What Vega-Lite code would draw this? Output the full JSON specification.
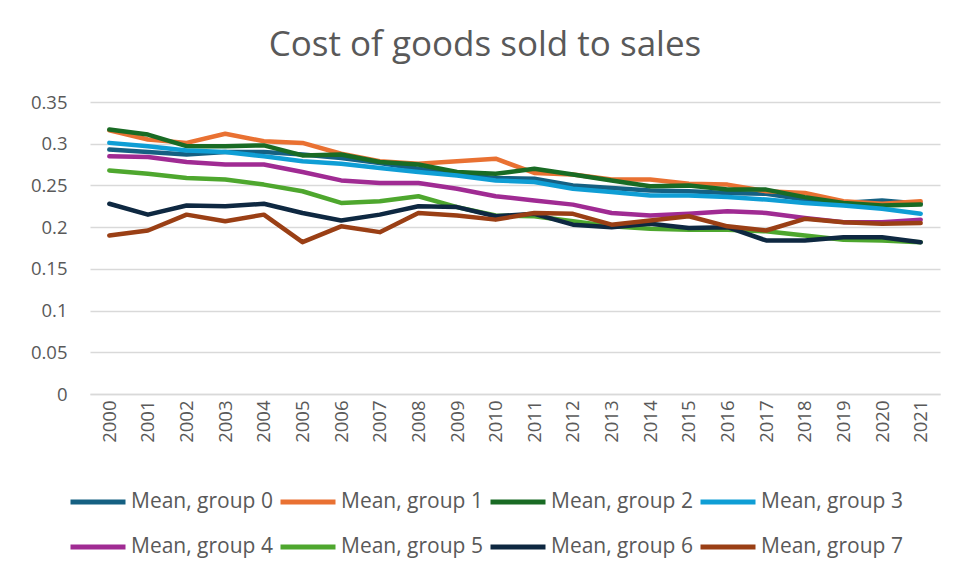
{
  "$schema": "https://vega.github.io/schema/vega-lite/v6.json",
  "width": 850,
  "height": 292,
  "autosize": {"type": "none"},
  "padding": {"left": 90, "top": 102, "right": 25, "bottom": 184},
  "background": "white",
  "title": {
    "text": "Cost of goods sold to sales",
    "fontSize": 35,
    "font": "Open Sans",
    "fontWeight": "normal",
    "color": "#595959",
    "anchor": "middle",
    "dx": -30,
    "offset": 30
  },
  "data": {
    "values": [
      {"y":"2000","s":"Mean, group 0","v":0.293},{"y":"2001","s":"Mean, group 0","v":0.290},{"y":"2002","s":"Mean, group 0","v":0.287},{"y":"2003","s":"Mean, group 0","v":0.290},{"y":"2004","s":"Mean, group 0","v":0.290},{"y":"2005","s":"Mean, group 0","v":0.287},{"y":"2006","s":"Mean, group 0","v":0.283},{"y":"2007","s":"Mean, group 0","v":0.277},{"y":"2008","s":"Mean, group 0","v":0.270},{"y":"2009","s":"Mean, group 0","v":0.263},{"y":"2010","s":"Mean, group 0","v":0.259},{"y":"2011","s":"Mean, group 0","v":0.258},{"y":"2012","s":"Mean, group 0","v":0.250},{"y":"2013","s":"Mean, group 0","v":0.247},{"y":"2014","s":"Mean, group 0","v":0.244},{"y":"2015","s":"Mean, group 0","v":0.243},{"y":"2016","s":"Mean, group 0","v":0.241},{"y":"2017","s":"Mean, group 0","v":0.240},{"y":"2018","s":"Mean, group 0","v":0.233},{"y":"2019","s":"Mean, group 0","v":0.229},{"y":"2020","s":"Mean, group 0","v":0.232},{"y":"2021","s":"Mean, group 0","v":0.228},
      {"y":"2000","s":"Mean, group 1","v":0.316},{"y":"2001","s":"Mean, group 1","v":0.305},{"y":"2002","s":"Mean, group 1","v":0.301},{"y":"2003","s":"Mean, group 1","v":0.312},{"y":"2004","s":"Mean, group 1","v":0.303},{"y":"2005","s":"Mean, group 1","v":0.301},{"y":"2006","s":"Mean, group 1","v":0.288},{"y":"2007","s":"Mean, group 1","v":0.279},{"y":"2008","s":"Mean, group 1","v":0.276},{"y":"2009","s":"Mean, group 1","v":0.279},{"y":"2010","s":"Mean, group 1","v":0.282},{"y":"2011","s":"Mean, group 1","v":0.265},{"y":"2012","s":"Mean, group 1","v":0.263},{"y":"2013","s":"Mean, group 1","v":0.257},{"y":"2014","s":"Mean, group 1","v":0.257},{"y":"2015","s":"Mean, group 1","v":0.252},{"y":"2016","s":"Mean, group 1","v":0.251},{"y":"2017","s":"Mean, group 1","v":0.243},{"y":"2018","s":"Mean, group 1","v":0.241},{"y":"2019","s":"Mean, group 1","v":0.231},{"y":"2020","s":"Mean, group 1","v":0.228},{"y":"2021","s":"Mean, group 1","v":0.231},
      {"y":"2000","s":"Mean, group 2","v":0.317},{"y":"2001","s":"Mean, group 2","v":0.311},{"y":"2002","s":"Mean, group 2","v":0.297},{"y":"2003","s":"Mean, group 2","v":0.297},{"y":"2004","s":"Mean, group 2","v":0.298},{"y":"2005","s":"Mean, group 2","v":0.286},{"y":"2006","s":"Mean, group 2","v":0.287},{"y":"2007","s":"Mean, group 2","v":0.278},{"y":"2008","s":"Mean, group 2","v":0.275},{"y":"2009","s":"Mean, group 2","v":0.266},{"y":"2010","s":"Mean, group 2","v":0.264},{"y":"2011","s":"Mean, group 2","v":0.270},{"y":"2012","s":"Mean, group 2","v":0.263},{"y":"2013","s":"Mean, group 2","v":0.256},{"y":"2014","s":"Mean, group 2","v":0.249},{"y":"2015","s":"Mean, group 2","v":0.250},{"y":"2016","s":"Mean, group 2","v":0.245},{"y":"2017","s":"Mean, group 2","v":0.245},{"y":"2018","s":"Mean, group 2","v":0.236},{"y":"2019","s":"Mean, group 2","v":0.229},{"y":"2020","s":"Mean, group 2","v":0.226},{"y":"2021","s":"Mean, group 2","v":0.227},
      {"y":"2000","s":"Mean, group 3","v":0.301},{"y":"2001","s":"Mean, group 3","v":0.297},{"y":"2002","s":"Mean, group 3","v":0.292},{"y":"2003","s":"Mean, group 3","v":0.290},{"y":"2004","s":"Mean, group 3","v":0.285},{"y":"2005","s":"Mean, group 3","v":0.279},{"y":"2006","s":"Mean, group 3","v":0.276},{"y":"2007","s":"Mean, group 3","v":0.271},{"y":"2008","s":"Mean, group 3","v":0.266},{"y":"2009","s":"Mean, group 3","v":0.262},{"y":"2010","s":"Mean, group 3","v":0.256},{"y":"2011","s":"Mean, group 3","v":0.254},{"y":"2012","s":"Mean, group 3","v":0.246},{"y":"2013","s":"Mean, group 3","v":0.242},{"y":"2014","s":"Mean, group 3","v":0.238},{"y":"2015","s":"Mean, group 3","v":0.238},{"y":"2016","s":"Mean, group 3","v":0.236},{"y":"2017","s":"Mean, group 3","v":0.233},{"y":"2018","s":"Mean, group 3","v":0.229},{"y":"2019","s":"Mean, group 3","v":0.226},{"y":"2020","s":"Mean, group 3","v":0.222},{"y":"2021","s":"Mean, group 3","v":0.216},
      {"y":"2000","s":"Mean, group 4","v":0.285},{"y":"2001","s":"Mean, group 4","v":0.284},{"y":"2002","s":"Mean, group 4","v":0.278},{"y":"2003","s":"Mean, group 4","v":0.275},{"y":"2004","s":"Mean, group 4","v":0.275},{"y":"2005","s":"Mean, group 4","v":0.266},{"y":"2006","s":"Mean, group 4","v":0.256},{"y":"2007","s":"Mean, group 4","v":0.253},{"y":"2008","s":"Mean, group 4","v":0.253},{"y":"2009","s":"Mean, group 4","v":0.246},{"y":"2010","s":"Mean, group 4","v":0.237},{"y":"2011","s":"Mean, group 4","v":0.232},{"y":"2012","s":"Mean, group 4","v":0.227},{"y":"2013","s":"Mean, group 4","v":0.217},{"y":"2014","s":"Mean, group 4","v":0.214},{"y":"2015","s":"Mean, group 4","v":0.216},{"y":"2016","s":"Mean, group 4","v":0.219},{"y":"2017","s":"Mean, group 4","v":0.217},{"y":"2018","s":"Mean, group 4","v":0.211},{"y":"2019","s":"Mean, group 4","v":0.206},{"y":"2020","s":"Mean, group 4","v":0.206},{"y":"2021","s":"Mean, group 4","v":0.209},
      {"y":"2000","s":"Mean, group 5","v":0.268},{"y":"2001","s":"Mean, group 5","v":0.264},{"y":"2002","s":"Mean, group 5","v":0.259},{"y":"2003","s":"Mean, group 5","v":0.257},{"y":"2004","s":"Mean, group 5","v":0.251},{"y":"2005","s":"Mean, group 5","v":0.243},{"y":"2006","s":"Mean, group 5","v":0.229},{"y":"2007","s":"Mean, group 5","v":0.231},{"y":"2008","s":"Mean, group 5","v":0.237},{"y":"2009","s":"Mean, group 5","v":0.224},{"y":"2010","s":"Mean, group 5","v":0.214},{"y":"2011","s":"Mean, group 5","v":0.213},{"y":"2012","s":"Mean, group 5","v":0.207},{"y":"2013","s":"Mean, group 5","v":0.201},{"y":"2014","s":"Mean, group 5","v":0.198},{"y":"2015","s":"Mean, group 5","v":0.197},{"y":"2016","s":"Mean, group 5","v":0.197},{"y":"2017","s":"Mean, group 5","v":0.195},{"y":"2018","s":"Mean, group 5","v":0.190},{"y":"2019","s":"Mean, group 5","v":0.185},{"y":"2020","s":"Mean, group 5","v":0.184},{"y":"2021","s":"Mean, group 5","v":0.182},
      {"y":"2000","s":"Mean, group 6","v":0.228},{"y":"2001","s":"Mean, group 6","v":0.215},{"y":"2002","s":"Mean, group 6","v":0.226},{"y":"2003","s":"Mean, group 6","v":0.225},{"y":"2004","s":"Mean, group 6","v":0.228},{"y":"2005","s":"Mean, group 6","v":0.217},{"y":"2006","s":"Mean, group 6","v":0.208},{"y":"2007","s":"Mean, group 6","v":0.215},{"y":"2008","s":"Mean, group 6","v":0.225},{"y":"2009","s":"Mean, group 6","v":0.224},{"y":"2010","s":"Mean, group 6","v":0.213},{"y":"2011","s":"Mean, group 6","v":0.216},{"y":"2012","s":"Mean, group 6","v":0.203},{"y":"2013","s":"Mean, group 6","v":0.200},{"y":"2014","s":"Mean, group 6","v":0.204},{"y":"2015","s":"Mean, group 6","v":0.199},{"y":"2016","s":"Mean, group 6","v":0.200},{"y":"2017","s":"Mean, group 6","v":0.184},{"y":"2018","s":"Mean, group 6","v":0.184},{"y":"2019","s":"Mean, group 6","v":0.188},{"y":"2020","s":"Mean, group 6","v":0.188},{"y":"2021","s":"Mean, group 6","v":0.182},
      {"y":"2000","s":"Mean, group 7","v":0.190},{"y":"2001","s":"Mean, group 7","v":0.196},{"y":"2002","s":"Mean, group 7","v":0.215},{"y":"2003","s":"Mean, group 7","v":0.207},{"y":"2004","s":"Mean, group 7","v":0.215},{"y":"2005","s":"Mean, group 7","v":0.182},{"y":"2006","s":"Mean, group 7","v":0.201},{"y":"2007","s":"Mean, group 7","v":0.194},{"y":"2008","s":"Mean, group 7","v":0.217},{"y":"2009","s":"Mean, group 7","v":0.214},{"y":"2010","s":"Mean, group 7","v":0.209},{"y":"2011","s":"Mean, group 7","v":0.217},{"y":"2012","s":"Mean, group 7","v":0.216},{"y":"2013","s":"Mean, group 7","v":0.203},{"y":"2014","s":"Mean, group 7","v":0.208},{"y":"2015","s":"Mean, group 7","v":0.213},{"y":"2016","s":"Mean, group 7","v":0.201},{"y":"2017","s":"Mean, group 7","v":0.196},{"y":"2018","s":"Mean, group 7","v":0.210},{"y":"2019","s":"Mean, group 7","v":0.206},{"y":"2020","s":"Mean, group 7","v":0.204},{"y":"2021","s":"Mean, group 7","v":0.205}
    ]
  },
  "mark": {"type": "line", "strokeWidth": 4.5, "strokeCap": "round", "strokeJoin": "round"},
  "encoding": {
    "x": {
      "field": "y", "type": "ordinal", "title": null,
      "scale": {"type": "point", "padding": 0.5},
      "axis": {"labelAngle": -90, "labelFontSize": 18.5, "labelFont": "Open Sans", "labelColor": "#595959", "ticks": false, "domainColor": "#d9d9d9", "domainWidth": 1.5, "labelPadding": 6, "grid": false}
    },
    "y": {
      "field": "v", "type": "quantitative", "title": null,
      "scale": {"domain": [0, 0.35], "nice": false},
      "axis": {"values": [0, 0.05, 0.1, 0.15, 0.2, 0.25, 0.3, 0.35], "format": "~g", "labelFontSize": 18.5, "labelFont": "Open Sans", "labelColor": "#595959", "ticks": false, "domain": false, "gridColor": "#d9d9d9", "gridWidth": 1.5, "labelPadding": 23}
    },
    "color": {
      "field": "s", "type": "nominal", "title": null,
      "scale": {
        "domain": ["Mean, group 0","Mean, group 1","Mean, group 2","Mean, group 3","Mean, group 4","Mean, group 5","Mean, group 6","Mean, group 7"],
        "range": ["#156082","#E97132","#196B24","#0F9ED5","#A02B93","#4EA72E","#0E2841","#9A3F15"]
      },
      "legend": {
        "orient": "none", "legendX": -22, "legendY": 370, "direction": "horizontal", "columns": 4,
        "symbolType": "stroke", "symbolSize": 3025, "symbolStrokeWidth": 5,
        "labelFontSize": 21, "labelFont": "Open Sans", "labelColor": "#595959", "labelOffset": 3, "labelLimit": 300,
        "columnPadding": -3, "rowPadding": 5, "gridAlign": "all"
      }
    }
  },
  "config": {"view": {"stroke": null}}
}
